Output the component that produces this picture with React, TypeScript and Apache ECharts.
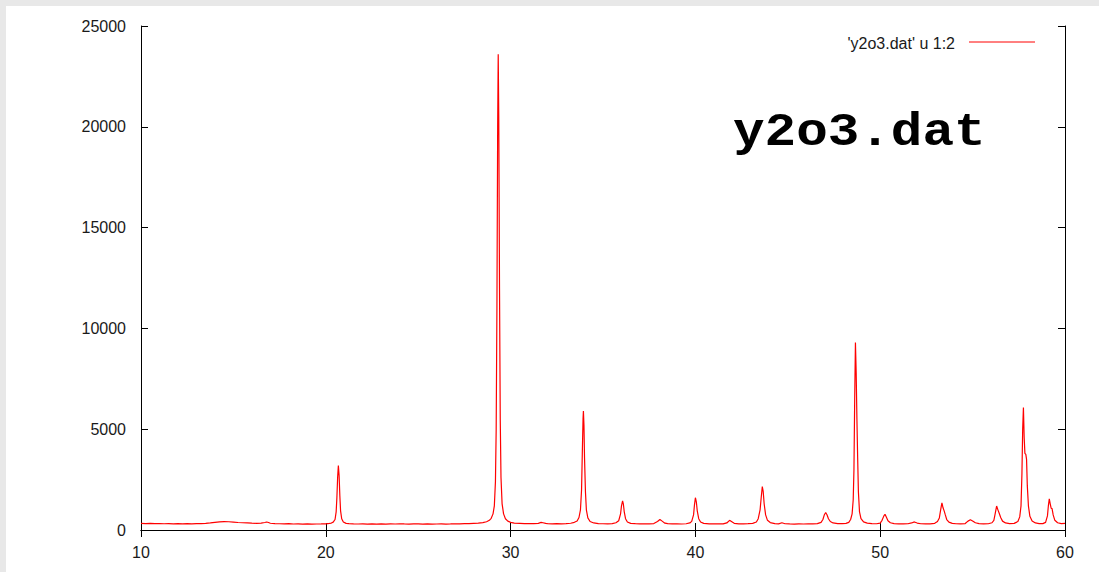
import React, { useEffect, useRef } from "react";
import * as echarts from "echarts";

// Diffractogram values (2θ in degrees, counts)
const baseline10to20: number[][] = [
  [10.0, 330], [10.25, 318], [10.5, 326], [10.75, 312], [11.0, 322], [11.25, 310], [11.5, 318], [11.75, 305],
  [12.0, 315], [12.25, 308], [12.5, 316], [12.75, 302], [13.0, 312], [13.25, 318], [13.5, 330], [13.75, 352],
  [14.0, 378], [14.25, 400], [14.5, 418], [14.75, 410], [15.0, 392], [15.25, 372], [15.5, 360], [15.75, 350],
  [16.0, 338], [16.25, 332], [16.5, 340], [16.7, 372], [16.8, 398], [16.9, 370], [17.0, 335], [17.25, 318],
  [17.5, 310], [17.75, 304], [18.0, 312], [18.25, 298], [18.5, 306], [18.75, 294], [19.0, 302], [19.25, 290],
  [19.5, 298], [19.75, 300], [20.0, 305], [20.2, 330],
];
const peak20_7: number[][] = [
  [20.3, 345], [20.4, 390], [20.5, 520], [20.56, 900], [20.6, 1600], [20.64, 2600], [20.68, 3200],
  [20.72, 2700], [20.76, 1700], [20.8, 950], [20.86, 560], [20.95, 400], [21.1, 330],
];
const baseline21to28: number[][] = [
  [21.25, 315], [21.5, 305], [21.75, 298], [22.0, 308], [22.25, 296], [22.5, 302], [22.75, 294], [23.0, 300],
  [23.25, 292], [23.5, 305], [23.75, 298], [24.0, 310], [24.25, 302], [24.5, 296], [24.75, 304], [25.0, 300],
  [25.25, 294], [25.5, 302], [25.75, 290], [26.0, 298], [26.25, 305], [26.5, 296], [26.75, 302], [27.0, 310],
  [27.25, 304], [27.5, 312], [27.75, 320], [28.0, 332], [28.25, 345], [28.5, 370],
];
const peak29_3: number[][] = [
  [28.7, 410], [28.85, 480], [28.95, 580], [29.05, 800], [29.12, 1200], [29.18, 2400], [29.22, 5000],
  [29.26, 11000], [29.3, 20000], [29.33, 23600], [29.36, 20500], [29.4, 12000], [29.44, 5500], [29.48, 2600],
  [29.54, 1300], [29.62, 800], [29.72, 560], [29.85, 440], [30.0, 380], [30.2, 345],
];
const baseline30to33: number[][] = [
  [30.5, 330], [30.75, 318], [31.0, 322], [31.25, 312], [31.5, 330], [31.65, 375], [31.75, 360], [31.9, 325],
  [32.0, 316], [32.25, 308], [32.5, 312], [32.75, 305], [33.0, 318], [33.25, 335], [33.45, 380],
];
const peak33_9: number[][] = [
  [33.6, 450], [33.7, 620], [33.78, 1000], [33.84, 2000], [33.88, 3800], [33.92, 5500], [33.94, 5900],
  [33.97, 5200], [34.0, 3600], [34.05, 1900], [34.1, 1000], [34.18, 600], [34.3, 420], [34.5, 350],
];
const region35to40: number[][] = [
  [34.75, 318], [35.0, 310], [35.25, 305], [35.5, 320], [35.7, 360],
  [35.85, 460], [35.95, 800], [36.0, 1200], [36.06, 1450], [36.1, 1300], [36.15, 900], [36.22, 560],
  [36.32, 400], [36.5, 330],
  [36.75, 312], [37.0, 305], [37.25, 300], [37.5, 308], [37.75, 320], [37.95, 420], [38.08, 520], [38.2, 440],
  [38.35, 340], [38.5, 312], [38.75, 300], [39.0, 306], [39.25, 298], [39.5, 310], [39.7, 350],
  [39.8, 430], [39.9, 750], [39.95, 1250], [40.0, 1600], [40.05, 1400], [40.1, 950], [40.18, 560],
  [40.28, 400], [40.45, 330],
];
const region41to47: number[][] = [
  [40.75, 305], [41.0, 300], [41.25, 308], [41.5, 302], [41.7, 350], [41.85, 480], [41.95, 420], [42.1, 330],
  [42.35, 305], [42.6, 300], [42.85, 312], [43.1, 330], [43.3, 400],
  [43.4, 560], [43.5, 1000], [43.56, 1600], [43.62, 2150], [43.67, 1900], [43.72, 1300], [43.8, 750],
  [43.9, 480], [44.05, 370], [44.3, 320],
  [44.5, 305], [44.68, 360], [44.85, 310], [45.1, 300], [45.35, 296], [45.6, 304], [45.85, 298], [46.1, 306],
  [46.35, 302], [46.6, 315], [46.8, 380],
  [46.9, 520], [46.98, 760], [47.05, 870], [47.12, 760], [47.2, 560], [47.3, 420], [47.45, 350], [47.7, 320],
  [47.95, 315], [48.15, 330], [48.3, 380],
];
const peak48_7: number[][] = [
  [48.4, 520], [48.48, 800], [48.54, 1500], [48.58, 3000], [48.62, 6500], [48.66, 9300], [48.7, 7800],
  [48.74, 5500], [48.78, 3600], [48.82, 1900], [48.88, 900], [48.96, 560], [49.1, 400], [49.3, 340],
];
const region49to56: number[][] = [
  [49.55, 318], [49.8, 310], [50.0, 340], [50.1, 480], [50.2, 700], [50.26, 780], [50.33, 640], [50.42, 460],
  [50.55, 360], [50.75, 320], [51.0, 305], [51.25, 300], [51.5, 310], [51.7, 350], [51.85, 400], [52.0, 345],
  [52.2, 310], [52.45, 300], [52.7, 306], [52.95, 330], [53.1, 420],
  [53.2, 600], [53.28, 1050], [53.34, 1350], [53.4, 1100], [53.46, 950], [53.52, 760], [53.6, 520],
  [53.72, 390], [53.9, 330],
  [54.1, 310], [54.35, 302], [54.6, 320], [54.75, 440], [54.88, 510], [55.0, 450], [55.15, 360], [55.35, 315],
  [55.6, 304], [55.85, 310], [56.05, 360], [56.15, 480],
  [56.22, 800], [56.3, 1190], [56.37, 1000], [56.44, 830], [56.52, 620], [56.62, 440], [56.78, 350],
  [57.0, 320], [57.25, 330], [57.45, 420],
];
const region57to60: number[][] = [
  [57.55, 650], [57.62, 1200], [57.67, 2800], [57.71, 5000], [57.75, 6080], [57.79, 4600], [57.83, 3800],
  [57.88, 3750], [57.92, 3500], [57.96, 2200], [58.02, 1200], [58.1, 680], [58.22, 450], [58.4, 350],
  [58.6, 320], [58.8, 318], [58.95, 380], [59.05, 700],
  [59.1, 1200], [59.15, 1550], [59.2, 1300], [59.25, 1080], [59.3, 1060], [59.36, 750], [59.45, 480],
  [59.6, 360], [59.8, 320], [60.0, 330],
];

const xTicks = [10, 20, 30, 40, 50, 60];
const yTicks = [0, 5000, 10000, 15000, 20000, 25000];
const seriesName = "'y2o3.dat' u 1:2";
const titleText = "y2o3.dat";

const allData = [
  ...baseline10to20, ...peak20_7, ...baseline21to28, ...peak29_3, ...baseline30to33, ...peak33_9,
  ...region35to40, ...region41to47, ...peak48_7, ...region49to56, ...region57to60,
];

const W = 1099;
const H = 572;
const font = "'Liberation Sans', Arial, Helvetica, sans-serif";

export default function App() {
  const ref = useRef<HTMLDivElement>(null);
  useEffect(() => {
    if (!ref.current) return;
    const chart = echarts.init(ref.current, null, { renderer: "svg", width: W, height: H });
    const xStep = xTicks[1] - xTicks[0];
    const yStep = yTicks[1] - yTicks[0];
    const tickStyle = { show: true, inside: true, length: 7, lineStyle: { color: "#000", width: 1 } };
    const lineStyle = { show: true, lineStyle: { color: "#000", width: 1 } };
    const label = { color: "#1a1a1a", fontSize: 16, fontFamily: font, formatter: (v: number) => String(v) };
    chart.setOption({
      animation: false,
      backgroundColor: "transparent",
      grid: { left: 141, top: 26, right: W - 1065, bottom: H - 530, show: false },
      xAxis: [
        {
          type: "value", min: xTicks[0], max: xTicks[xTicks.length - 1], interval: xStep,
          position: "bottom", axisLine: lineStyle, axisTick: tickStyle, splitLine: { show: false },
          axisLabel: { ...label, margin: 14 },
        },
        {
          type: "value", min: xTicks[0], max: xTicks[xTicks.length - 1], interval: xStep,
          position: "top", axisLine: lineStyle, axisTick: tickStyle, splitLine: { show: false },
          axisLabel: { show: false },
        },
      ],
      yAxis: [
        {
          type: "value", min: yTicks[0], max: yTicks[yTicks.length - 1], interval: yStep,
          position: "left", axisLine: lineStyle, axisTick: tickStyle, splitLine: { show: false },
          axisLabel: { ...label, margin: 15 },
        },
        {
          type: "value", min: yTicks[0], max: yTicks[yTicks.length - 1], interval: yStep,
          position: "right", axisLine: lineStyle, axisTick: tickStyle, splitLine: { show: false },
          axisLabel: { show: false },
        },
      ],
      series: [
        {
          name: seriesName,
          type: "line",
          xAxisIndex: 0,
          yAxisIndex: 0,
          data: allData,
          showSymbol: false,
          symbol: "none",
          lineStyle: { color: "#ff0000", width: 1.2 },
          itemStyle: { color: "#ff0000" },
        },
      ],
      graphic: [
        {
          type: "text",
          x: 955,
          y: 43,
          style: {
            text: seriesName,
            fill: "#1a1a1a",
            font: `16px ${font}`,
            align: "right",
            verticalAlign: "middle",
          },
        },
        {
          type: "line",
          shape: { x1: 969, y1: 42, x2: 1035, y2: 42 },
          style: { stroke: "#ff0000", lineWidth: 1 },
        },
        {
          type: "text",
          x: 733,
          y: 132,
          scaleX: 1.12,
          style: {
            text: titleText,
            fill: "#000",
            font: `bold 47px 'Courier New', 'Liberation Mono', monospace`,
            align: "left",
            verticalAlign: "middle",
          },
        },
      ],
    });
    return () => chart.dispose();
  }, []);

  return (
    <div style={{ position: "fixed", left: 0, top: 0, width: W, height: H, background: "#e8e8e8" }}>
      <div style={{ position: "absolute", left: 6, top: 6, width: W - 6, height: H - 6, background: "#fff" }} />
      <div ref={ref} style={{ position: "absolute", left: 0, top: 0, width: W, height: H }} />
    </div>
  );
}
